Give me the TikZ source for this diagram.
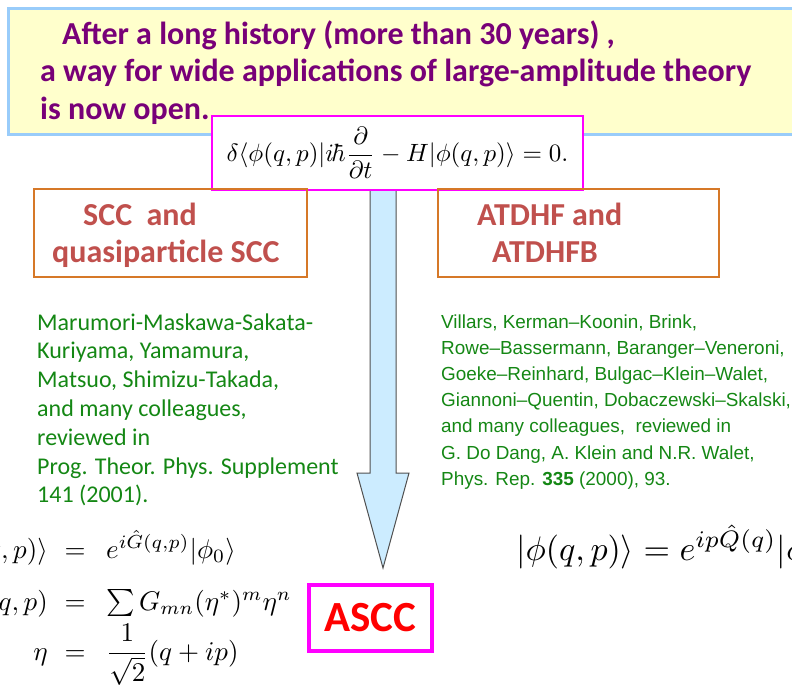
\documentclass[tikz,border=0pt]{standalone}
\usepackage{fontspec}
\setmainfont{Carlito}
\newfontfamily\refsfont{Liberation Sans}
\definecolor{histpurple}{RGB}{120,0,120}
\definecolor{notebg}{RGB}{255,255,204}
\definecolor{noteframe}{RGB}{153,204,250}
\definecolor{boxorange}{RGB}{214,120,40}
\definecolor{boxred}{RGB}{192,80,77}
\definecolor{refgreen}{RGB}{20,135,20}
\definecolor{eqmagenta}{RGB}{255,0,255}
\definecolor{flowblue}{RGB}{204,236,255}
\definecolor{flowgray}{RGB}{80,80,80}
\tikzset{
  titletext/.style={font=\fontsize{32}{37.5}\selectfont\bfseries, text=histpurple, inner sep=0, anchor=base west},
  methodbox/.style={draw=boxorange, line width=1.2pt, minimum width=273, minimum height=88, inner sep=0},
  methodtext/.style={font=\fontsize{32}{37}\selectfont\bfseries, text=boxred, inner sep=0, anchor=base west},
  reftext/.style={text=refgreen, inner sep=0, anchor=base west},
  leqn/.style={inner sep=0},
}

\begin{document}
\begin{tikzpicture}[x=1pt,y=-1pt]
  %%%%% START %%%%%
  \useasboundingbox (0,0) rectangle (792,691);
  \clip (0,0) rectangle (792,691);

  \draw[line width=3pt, draw=noteframe, fill=notebg] (8.5,8.5) rectangle (805,134.5);
  \node[titletext] (history) at (40,44) {\begin{tabular}[t]{@{}l@{}}\hspace*{22pt}After a long history (more than 30 years) ,\\a way for wide applications of large-amplitude theory\\is now open.\end{tabular}};

  \draw[fill=flowblue, draw=flowgray, line width=1pt] (370,185) -- (370,473) -- (357,473) -- (383,568) -- (409,473) -- (396,473) -- (396,185);

  \node[draw=eqmagenta, line width=1.2pt, fill=white, minimum width=371, minimum height=74, inner sep=0] (variation) at (397.5,153) {\scalebox{2.5}{$\displaystyle \delta\langle\phi(q,p)|i\hbar\frac{\partial}{\partial t}-H|\phi(q,p)\rangle=0.$}};

  \node[methodbox] (scc) at (170.5,233) {};
  \node[methodtext] (scctext) at (52,225) {\begin{tabular}[t]{@{}l@{}}\hspace*{31pt}SCC\ \ and\\quasiparticle SCC\end{tabular}};
  \node[methodbox, minimum width=281] (atdhf) at (578.5,233) {};
  \node[methodtext] (atdhftext) at (477,225) {\begin{tabular}[t]{@{}l@{}}ATDHF and\\\hspace*{15pt}ATDHFB\end{tabular}};

  \node[reftext, font=\fontsize{24}{28.8}\selectfont] (sccrefs) at (37,330) {\begin{tabular}[t]{@{}l@{}}Marumori-Maskawa-Sakata-\\Kuriyama, Yamamura,\\Matsuo, Shimizu-Takada,\\and many colleagues,\\reviewed in\\Prog. Theor. Phys. Supplement\\141 (2001).\end{tabular}};
  \node[reftext, font=\refsfont\fontsize{18.9}{26.2}\selectfont] (atdhfrefs) at (441,328) {\begin{tabular}[t]{@{}l@{}}Villars, Kerman–Koonin, Brink,\\Rowe–Bassermann, Baranger–Veneroni,\\Goeke–Reinhard, Bulgac–Klein–Walet,\\Giannoni–Quentin, Dobaczewski–Skalski,\\and many colleagues,\ \ reviewed in\\G. Do Dang, A. Klein and N.R. Walet,\\Phys. Rep. \textbf{335} (2000), 93.\end{tabular}};

  % generator of the ASCC state
  \node[leqn, anchor=base east] (statel) at (48,558) {\scalebox{2.7}{$|\phi(q,p)\rangle$}};
  \node[leqn, anchor=base] (statee) at (75,558) {\scalebox{2.7}{$=$}};
  \node[leqn, anchor=base west] (stater) at (106,558) {\scalebox{2.7}{$e^{i\hat G(q,p)}|\phi_0\rangle$}};
  \node[leqn, anchor=base east] (genl) at (48,610) {\scalebox{2.7}{$\hat G(q,p)$}};
  \node[leqn, anchor=base] (gene) at (75,610) {\scalebox{2.7}{$=$}};
  \node[leqn, anchor=base west] (genr) at (106,610) {\scalebox{2.7}{$\sum G_{mn}(\eta^*)^m\eta^n$}};
  \node[leqn, anchor=base east] (etal) at (48,660) {\scalebox{2.7}{$\eta$}};
  \node[leqn, anchor=base] (etae) at (75,660) {\scalebox{2.7}{$=$}};
  \node[leqn, anchor=base west] (etar) at (106,660) {\scalebox{2.7}{$\displaystyle\frac{1}{\sqrt{2}}(q+ip)$}};

  \node[leqn, anchor=base west] (collstate) at (516,560) {\scalebox{3.4}{$|\phi(q,p)\rangle=e^{ip\hat Q(q)}|\phi_0\rangle$}};

  \node[draw=eqmagenta, line width=4pt, minimum width=123, minimum height=66, inner sep=0, font=\fontsize{43}{50}\selectfont\bfseries, text=red] (ascc) at (370.5,618) {ASCC};
  %%%%% END %%%%%
\end{tikzpicture}
\end{document}
